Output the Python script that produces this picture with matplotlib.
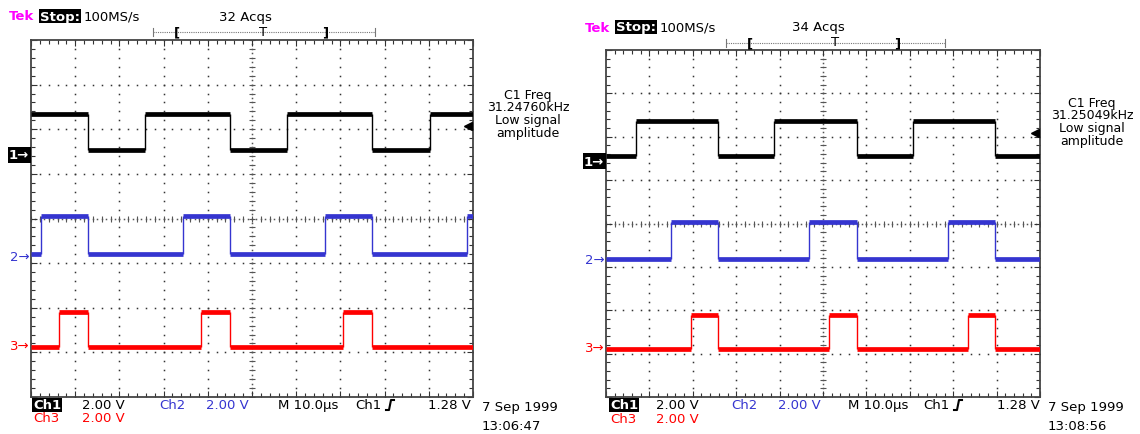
import matplotlib
matplotlib.use("Agg")
import matplotlib.pyplot as plt
from matplotlib.lines import Line2D
import numpy as np

W, H = 1140, 435

# ---- values read off the two scope screens ----
# edge times in microseconds (alternating), levels in volts, offsets in divisions
LEFT_CH1_EDGES = [-37.1, -24.2, -5.0, 7.9, 27.1, 40.3]
LEFT_CH2_EDGES = [-47.7, -37.1, -15.6, -5.0, 16.5, 27.1, 48.6]
LEFT_CH3_EDGES = [-43.7, -37.1, -11.5, -5.0, 20.6, 27.1]
LEFT_START = [1, 0, 0]
LEFT_LOW = [0.22, 0.13, -0.04]
LEFT_HIGH = [1.84, 1.79, 1.52]
LEFT_OFFSET = [1.43, -0.85, -2.85]

RIGHT_CH1_EDGES = [-43.1, -24.2, -11.3, 7.8, 20.7, 39.6]
RIGHT_CH2_EDGES = [-35.0, -24.2, -3.2, 7.8, 28.8, 39.6]
RIGHT_CH3_EDGES = [-30.4, -24.2, 1.4, 7.8, 33.4, 39.6]
RIGHT_START = [0, 0, 0]
RIGHT_LOW = [0.23, 0.05, -0.09]
RIGHT_HIGH = [1.84, 1.75, 1.47]
RIGHT_OFFSET = [1.44, -0.84, -2.85]

TRIG_LEVEL = 1.28
VOLTS_PER_DIV = 2.0
COLORS = ["#000000", "#3535d0", "#ff0000"]

LEFT_INFO = ["C1 Freq", "31.24760kHz", "Low signal", "amplitude"]
RIGHT_INFO = ["C1 Freq", "31.25049kHz", "Low signal", "amplitude"]


def graticule(ax):
    ax.set_xlim(-50, 50)
    ax.set_ylim(-4, 4)
    ys = np.arange(-4, 4.001, 0.2)
    xs = np.arange(-50, 50.01, 2)
    for xv in range(-40, 41, 10):
        if xv == 0:
            continue
        ax.plot(np.full_like(ys, xv), ys, ls="none", marker="s", ms=1.1,
                mew=0, color="#333333", zorder=1)
    for yv in range(-3, 4):
        if yv == 0:
            continue
        ax.plot(xs, np.full_like(xs, yv), ls="none", marker="s", ms=1.1,
                mew=0, color="#333333", zorder=1)
    # centre cross with dense dots and small ticks
    yc = np.arange(-4, 4.001, 0.1)
    xc = np.arange(-50, 50.01, 1)
    ax.plot(np.zeros_like(yc), yc, ls="none", marker="s", ms=1.1, mew=0,
            color="#555555", zorder=1)
    ax.plot(xc, np.zeros_like(xc), ls="none", marker="s", ms=1.1, mew=0,
            color="#555555", zorder=1)
    ax.plot(np.zeros_like(ys), ys, ls="none", marker="_", ms=4, mew=0.8,
            color="#555555", zorder=1)
    ax.plot(xs, np.zeros_like(xs), ls="none", marker="|", ms=4, mew=0.8,
            color="#555555", zorder=1)

    ax.set_xticks(np.arange(-50, 51, 10))
    ax.set_xticks(xs, minor=True)
    ax.set_yticks(np.arange(-4, 5, 1))
    ax.set_yticks(ys, minor=True)
    ax.tick_params(which="both", direction="in", top=True, right=True,
                   labelbottom=False, labelleft=False, color="#333333",
                   width=0.8)
    ax.tick_params(which="major", length=4)
    ax.tick_params(which="minor", length=3)
    for s in ax.spines.values():
        s.set_color("#444444")
        s.set_linewidth(1.3)


def draw_trace(ax, edges, start, lo, hi, off, color):
    t = [-50.0] + list(edges) + [50.0]
    lev = [hi if (start + i) % 2 else lo for i in range(len(t) - 1)]
    y = [off + v / VOLTS_PER_DIV for v in lev]
    ax.hlines(y, t[:-1], t[1:], color=color, lw=3.4, zorder=3)
    ax.vlines(edges, y[:-1], y[1:], color=color, lw=1.0, zorder=3)


def scope(rect, edges, starts, lows, highs, offs):
    ax = fig.add_axes(rect)
    graticule(ax)
    for i in range(3):
        draw_trace(ax, edges[i], starts[i], lows[i], highs[i], offs[i], COLORS[i])
    tr = ax.get_yaxis_transform()
    ax.text(-0.004, offs[0], "1\u2192", transform=tr, ha="right", va="center",
            color="white", fontsize=9.5, fontweight="bold",
            bbox=dict(boxstyle="square,pad=0.1", fc="black", ec="none"))
    ax.text(-0.004, offs[1], "2\u2192", transform=tr, ha="right", va="center",
            color=COLORS[1], fontsize=9.5)
    ax.text(-0.004, offs[2], "3\u2192", transform=tr, ha="right", va="center",
            color=COLORS[2], fontsize=9.5)
    ax.plot([48.8], [offs[0] + TRIG_LEVEL / VOLTS_PER_DIV], marker="<", ms=6,
            color="black", clip_on=False, zorder=4)
    return ax


fig = plt.figure(figsize=(W / 100, H / 100), dpi=100)
fig.patch.set_facecolor("white")

scope([31 / W, 1 - 398 / H, 442 / W, 357 / H],
      [LEFT_CH1_EDGES, LEFT_CH2_EDGES, LEFT_CH3_EDGES],
      LEFT_START, LEFT_LOW, LEFT_HIGH, LEFT_OFFSET)
scope([606 / W, 1 - 398 / H, 434 / W, 347 / H],
      [RIGHT_CH1_EDGES, RIGHT_CH2_EDGES, RIGHT_CH3_EDGES],
      RIGHT_START, RIGHT_LOW, RIGHT_HIGH, RIGHT_OFFSET)

ov = fig.add_axes([0, 0, 1, 1], zorder=5)
ov.set_xlim(0, W)
ov.set_ylim(H, 0)
ov.axis("off")
ov.patch.set_visible(False)


def txt(x, y, s, color="black", ha="left", size=9.5, **kw):
    ov.text(x, y, s, color=color, ha=ha, va="center", fontsize=size, **kw)


def header(x0, y, acq_x, acqs, br):
    txt(x0, y, "Tek", color="#ff00ff", fontweight="bold")
    txt(x0 + 31, y, "Stop:", color="white", fontweight="bold",
        bbox=dict(boxstyle="square,pad=0.05", fc="black", ec="none"))
    txt(x0 + 75, y, "100MS/s")
    txt(acq_x, y, acqs)
    by = y + 16
    ov.plot([br[0], br[4]], [by, by], color="#777777", lw=0.8, ls=(0, (1, 1)))
    for xe in (br[0], br[4]):
        ov.plot([xe, xe], [by - 4, by + 4], color="#777777", lw=0.8)
    txt(br[1], by, "[", fontweight="bold", ha="center")
    txt(br[2], by - 1, "T", ha="center")
    txt(br[3], by, "]", fontweight="bold", ha="center")


def footer(xs, y1, y2, date_x, right_x, clock):
    txt(xs[0], y1, "Ch1", color="white", fontweight="bold",
        bbox=dict(boxstyle="square,pad=0.05", fc="black", ec="none"))
    txt(xs[1], y1, "2.00 V")
    txt(xs[2], y1, "Ch2", color=COLORS[1])
    txt(xs[3], y1, "2.00 V", color=COLORS[1])
    txt(xs[4], y1, "M 10.0\u00b5s")
    txt(xs[5], y1, "Ch1")
    ex = xs[5] + 31
    ov.add_line(Line2D([ex, ex + 3, ex + 5, ex + 8], [y1 + 5, y1 + 5, y1 - 5, y1 - 5],
                       color="black", lw=1.5))
    txt(right_x, y1, "1.28 V", ha="right")
    txt(xs[0], y2, "Ch3", color=COLORS[2])
    txt(xs[1], y2, "2.00 V", color=COLORS[2])
    txt(date_x, y1 + 2, "7 Sep 1999")
    txt(date_x, y1 + 21, clock)


def info(xc, y0, lines):
    for i, s in enumerate(lines):
        txt(xc, y0 + i * 12.7, s, ha="center", size=9)


header(9, 17, 219, "32 Acqs", [153, 177, 263, 325, 375])
header(585, 28, 792, "34 Acqs", [726, 750, 835, 897, 945])
footer([33, 82, 159, 206, 278, 355], 406, 419, 482, 471, "13:06:47")
footer([610, 656, 731, 778, 848, 923], 406, 420, 1048, 1040, "13:08:56")
info(528, 95, LEFT_INFO)
info(1092, 103, RIGHT_INFO)

fig.savefig("out.png", dpi=100, facecolor="white")
